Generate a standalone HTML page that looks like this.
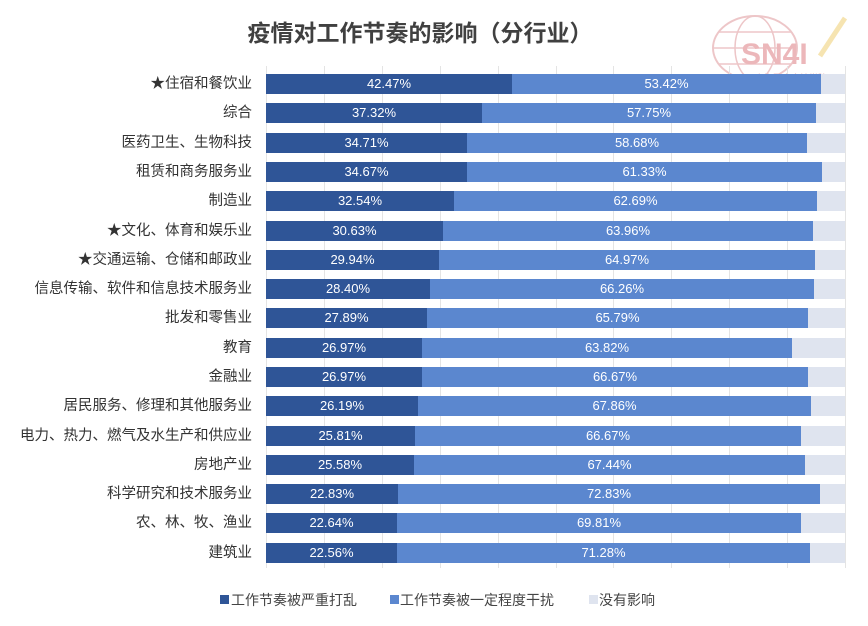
<!DOCTYPE html>
<html><head><meta charset="utf-8"><style>
body{margin:0;background:#fff;width:868px;height:626px;position:relative;overflow:hidden;font-family:"Liberation Sans","Noto Sans CJK SC",sans-serif;}
.t{position:absolute;left:0;width:840px;top:14px;text-align:center;font-size:23px;font-weight:bold;color:#404040;}
.g{position:absolute;top:66px;height:502px;width:1px;background:#e4e4e4;}
.r{position:absolute;left:266px;width:579px;height:20px;display:flex;}
.r div{height:20px;color:#fff;font-size:13px;line-height:20px;text-align:center;}
.a{background:#2f5597;}.b{background:#5b87cf;}.c{background:#dfe4ef;flex:1;}
.l{position:absolute;right:616px;font-size:14.5px;color:#333;line-height:20px;white-space:nowrap;}
.lg{position:absolute;top:590px;font-size:14px;color:#444;}
.sq{position:absolute;top:595px;width:9px;height:9px;}
</style></head><body>
<div class="t">疫情对工作节奏的影响（分行业）</div>
<svg style="position:absolute;left:705px;top:8px;opacity:0.75" width="160" height="90">
<ellipse cx="50" cy="40" rx="42" ry="32" fill="none" stroke="#e8b4b6" stroke-width="2"/>
<ellipse cx="50" cy="40" rx="20" ry="32" fill="none" stroke="#e8b4b6" stroke-width="1.5"/>
<line x1="8" y1="40" x2="92" y2="40" stroke="#e8b4b6" stroke-width="1.5"/>
<line x1="14" y1="24" x2="86" y2="24" stroke="#e8b4b6" stroke-width="1.5"/>
<line x1="14" y1="56" x2="86" y2="56" stroke="#e8b4b6" stroke-width="1.5"/>
<text x="36" y="56" font-size="30" font-weight="bold" fill="#e6a0a4" font-family="Liberation Sans">SN4I</text>
<line x1="115" y1="48" x2="140" y2="10" stroke="#f3dc98" stroke-width="5"/>
<text x="50" y="73" font-size="9" fill="#e6a8ac" font-family="Noto Sans CJK SC">上海国家会计学院</text>
<text x="50" y="85" font-size="9" fill="#e6a8ac" font-family="Noto Sans CJK SC">会计教育研究中心</text>
</svg>
<div class="g" style="left:266px"></div><div class="g" style="left:324px"></div><div class="g" style="left:382px"></div><div class="g" style="left:440px"></div><div class="g" style="left:498px"></div><div class="g" style="left:556px"></div><div class="g" style="left:613px"></div><div class="g" style="left:671px"></div><div class="g" style="left:729px"></div><div class="g" style="left:787px"></div><div class="g" style="left:845px"></div>

<div class="l" style="top:74px">★住宿和餐饮业</div><div class="r" style="top:74px"><div class="a" style="width:246px">42.47%</div><div class="b" style="width:309px">53.42%</div><div class="c"></div></div>
<div class="l" style="top:103px">综合</div><div class="r" style="top:103px"><div class="a" style="width:216px">37.32%</div><div class="b" style="width:334px">57.75%</div><div class="c"></div></div>
<div class="l" style="top:133px">医药卫生、生物科技</div><div class="r" style="top:133px"><div class="a" style="width:201px">34.71%</div><div class="b" style="width:340px">58.68%</div><div class="c"></div></div>
<div class="l" style="top:162px">租赁和商务服务业</div><div class="r" style="top:162px"><div class="a" style="width:201px">34.67%</div><div class="b" style="width:355px">61.33%</div><div class="c"></div></div>
<div class="l" style="top:191px">制造业</div><div class="r" style="top:191px"><div class="a" style="width:188px">32.54%</div><div class="b" style="width:363px">62.69%</div><div class="c"></div></div>
<div class="l" style="top:221px">★文化、体育和娱乐业</div><div class="r" style="top:221px"><div class="a" style="width:177px">30.63%</div><div class="b" style="width:370px">63.96%</div><div class="c"></div></div>
<div class="l" style="top:250px">★交通运输、仓储和邮政业</div><div class="r" style="top:250px"><div class="a" style="width:173px">29.94%</div><div class="b" style="width:376px">64.97%</div><div class="c"></div></div>
<div class="l" style="top:279px">信息传输、软件和信息技术服务业</div><div class="r" style="top:279px"><div class="a" style="width:164px">28.40%</div><div class="b" style="width:384px">66.26%</div><div class="c"></div></div>
<div class="l" style="top:308px">批发和零售业</div><div class="r" style="top:308px"><div class="a" style="width:161px">27.89%</div><div class="b" style="width:381px">65.79%</div><div class="c"></div></div>
<div class="l" style="top:338px">教育</div><div class="r" style="top:338px"><div class="a" style="width:156px">26.97%</div><div class="b" style="width:370px">63.82%</div><div class="c"></div></div>
<div class="l" style="top:367px">金融业</div><div class="r" style="top:367px"><div class="a" style="width:156px">26.97%</div><div class="b" style="width:386px">66.67%</div><div class="c"></div></div>
<div class="l" style="top:396px">居民服务、修理和其他服务业</div><div class="r" style="top:396px"><div class="a" style="width:152px">26.19%</div><div class="b" style="width:393px">67.86%</div><div class="c"></div></div>
<div class="l" style="top:426px">电力、热力、燃气及水生产和供应业</div><div class="r" style="top:426px"><div class="a" style="width:149px">25.81%</div><div class="b" style="width:386px">66.67%</div><div class="c"></div></div>
<div class="l" style="top:455px">房地产业</div><div class="r" style="top:455px"><div class="a" style="width:148px">25.58%</div><div class="b" style="width:391px">67.44%</div><div class="c"></div></div>
<div class="l" style="top:484px">科学研究和技术服务业</div><div class="r" style="top:484px"><div class="a" style="width:132px">22.83%</div><div class="b" style="width:422px">72.83%</div><div class="c"></div></div>
<div class="l" style="top:513px">农、林、牧、渔业</div><div class="r" style="top:513px"><div class="a" style="width:131px">22.64%</div><div class="b" style="width:404px">69.81%</div><div class="c"></div></div>
<div class="l" style="top:543px">建筑业</div><div class="r" style="top:543px"><div class="a" style="width:131px">22.56%</div><div class="b" style="width:413px">71.28%</div><div class="c"></div></div>

<div class="sq" style="left:220px;background:#2f5597"></div><div class="lg" style="left:231px">工作节奏被严重打乱</div>
<div class="sq" style="left:390px;background:#5b87cf"></div><div class="lg" style="left:400px">工作节奏被一定程度干扰</div>
<div class="sq" style="left:589px;background:#dfe4ef"></div><div class="lg" style="left:599px">没有影响</div>
</body></html>
